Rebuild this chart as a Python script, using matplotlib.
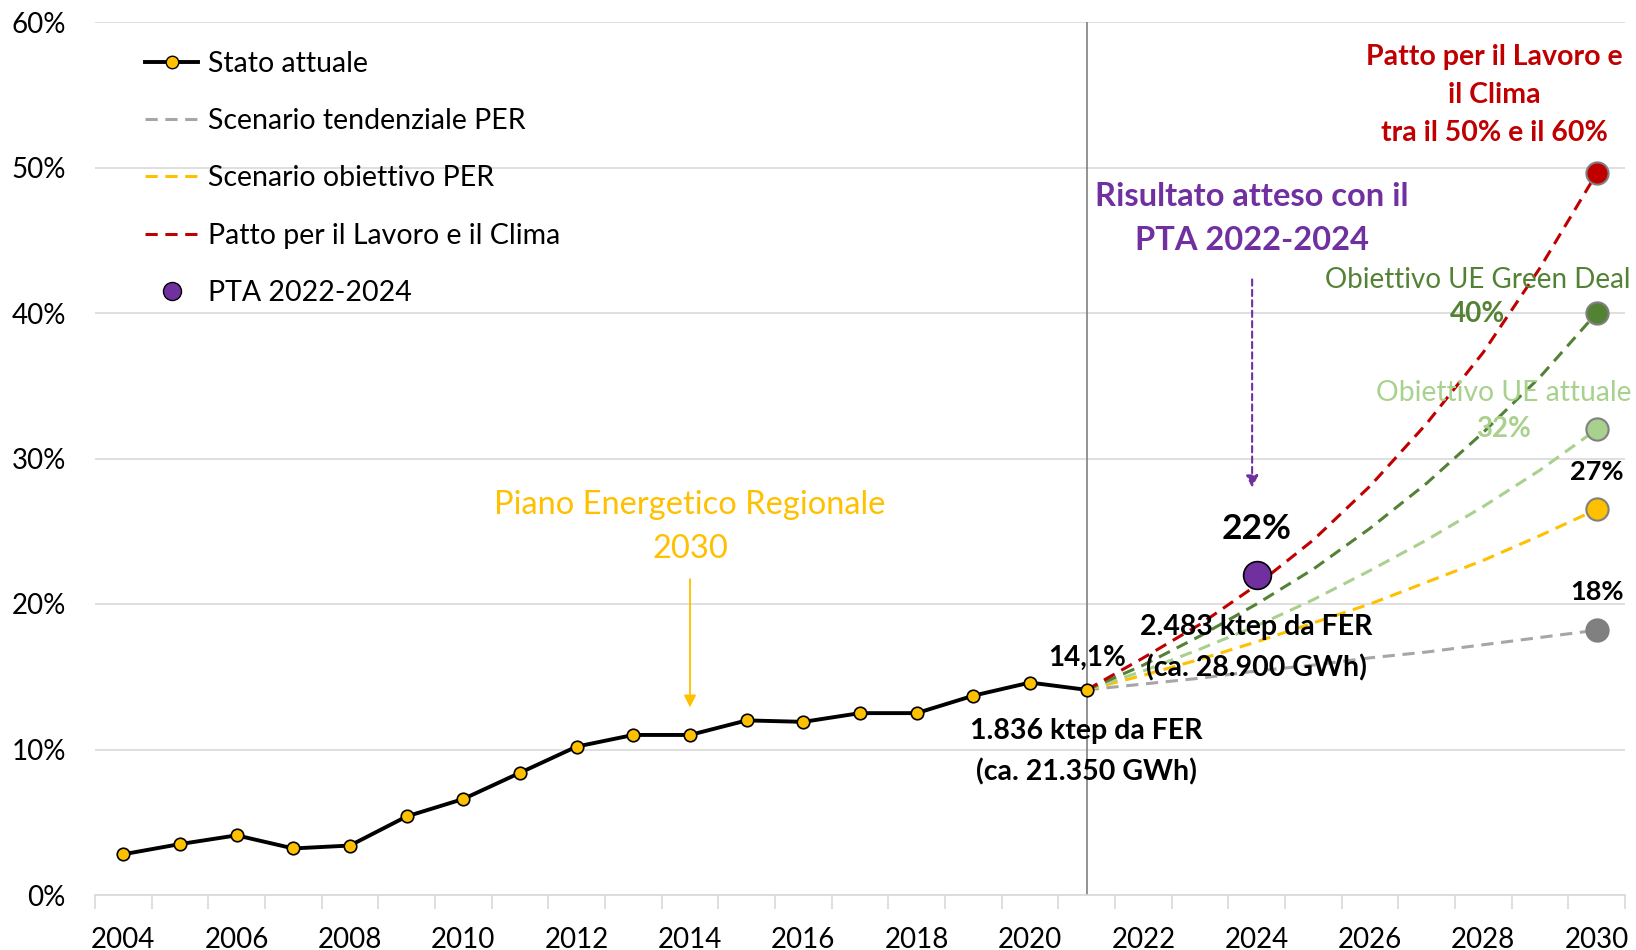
import matplotlib.pyplot as plt
from matplotlib.lines import Line2D

plt.rcParams['font.family'] = ['Lato', 'DejaVu Sans']

# historical share of renewables (%)
years_hist = list(range(2004, 2022))
stato_attuale = [2.8, 3.5, 4.1, 3.2, 3.4, 5.4, 6.6, 8.4, 10.2, 11.0, 11.0, 12.0, 11.9, 12.5, 12.5, 13.7, 14.6, 14.1]

# scenarios 2021-2030 (%)
years_proj = list(range(2021, 2031))
tendenziale = [14.1, 14.5, 14.9, 15.4, 15.8, 16.3, 16.7, 17.2, 17.7, 18.2]
obiettivo_per = [14.1, 15.1, 16.2, 17.4, 18.7, 20.0, 21.5, 23.0, 24.7, 26.5]
ue_attuale = [14.1, 15.4, 16.9, 18.5, 20.3, 22.3, 24.4, 26.7, 29.2, 32.0]
green_deal = [14.1, 15.8, 17.8, 20.0, 22.4, 25.2, 28.3, 31.8, 35.6, 40.0]
patto = [14.1, 16.3, 18.6, 21.3, 24.4, 28.1, 32.4, 37.3, 43.1, 49.6]

pta_year = 2024
pta_value = 22.0

year_ticks = list(range(2004, 2031, 2))
pct_ticks = [0, 10, 20, 30, 40, 50, 60]

RED = '#C00000'
DGREEN = '#548235'
LGREEN = '#A9D18E'
YELLOW = '#FFC000'
GREY = '#A6A6A6'
PURPLE = '#7030A0'

fig = plt.figure(figsize=(16.36, 9.5), dpi=100)
ax = fig.add_axes([95 / 1636, 55 / 950, 1530 / 1636, 873 / 950])

ax.set_xlim(2003.5, 2030.5)
ax.set_ylim(0, 60)

ax.set_yticks(pct_ticks)
ax.set_yticklabels([f'{v}%' for v in pct_ticks])
ax.set_xticks(year_ticks)
ax.set_xticklabels([str(y) for y in year_ticks])
ax.set_xticks([y + 0.5 for y in range(2003, 2031)], minor=True)
ax.tick_params(axis='x', which='major', length=0, pad=23, labelsize=20)
ax.tick_params(axis='x', which='minor', length=10, color='#D9D9D9', width=1.2)
ax.tick_params(axis='y', length=0, pad=21, labelsize=20)
ax.grid(axis='y', color='#D9D9D9', linewidth=1.2)
ax.set_axisbelow(True)
for s in ['top', 'right', 'left']:
    ax.spines[s].set_visible(False)
ax.spines['bottom'].set_color('#D9D9D9')
ax.spines['bottom'].set_linewidth(1.2)

ax.axvline(2021, color='#808080', linewidth=1.2, zorder=1)

dash = (4, 2.5)
scen = [(tendenziale, GREY, '#808080'), (obiettivo_per, YELLOW, YELLOW),
        (ue_attuale, LGREEN, LGREEN), (green_deal, DGREEN, DGREEN), (patto, RED, RED)]
for vals, col, mcol in scen:
    ax.plot(years_proj, vals, color=col, linewidth=2.2, dashes=dash, zorder=3)
    ax.plot(years_proj[-1], vals[-1], 'o', markersize=16, markerfacecolor=mcol,
            markeredgecolor='#7F7F7F', markeredgewidth=1.5, zorder=5)

ax.plot(years_hist, stato_attuale, color='black', linewidth=2.8, marker='o',
        markersize=9, markerfacecolor=YELLOW, markeredgecolor='black',
        markeredgewidth=1.2, zorder=6)

ax.plot(pta_year, pta_value, 'o', markersize=20, markerfacecolor=PURPLE,
        markeredgecolor='black', markeredgewidth=1.2, zorder=6)

# annotations
ax.text(2014.0, 25.3, 'Piano Energetico Regionale\n2030', color=YELLOW, fontsize=23.5,
        ha='center', va='center', linespacing=1.58)
ax.annotate('', xy=(2014.0, 12.7), xytext=(2014.0, 21.9),
            arrowprops=dict(arrowstyle='-|>', color=YELLOW, lw=1.3, mutation_scale=18))

ax.text(2023.92, 46.5, 'Risultato atteso con il\nPTA 2022-2024', color=PURPLE,
        fontsize=23.5, fontweight='bold', ha='center', va='center', linespacing=1.6)
ax.annotate('', xy=(2023.92, 27.8), xytext=(2023.92, 42.5),
            arrowprops=dict(arrowstyle='-|>', color=PURPLE, lw=1.5, ls=(0, (3, 2)),
                            mutation_scale=18))
ax.text(2024.0, 25.15, '22%', fontsize=25.5, fontweight='bold', ha='center', va='center')

ax.text(2024.0, 17.0, '2.483 ktep da FER\n(ca. 28.900 GWh)', fontsize=20.5,
        fontweight='bold', ha='center', va='center', linespacing=1.62, zorder=7)
ax.text(2021.0, 16.3, '14,1%', fontsize=20, fontweight='bold', ha='center', va='center')
ax.text(2021.0, 9.86, '1.836 ktep da FER\n(ca. 21.350 GWh)', fontsize=20.5,
        fontweight='bold', ha='center', va='center', linespacing=1.65)

ax.text(2028.2, 55.0, 'Patto per il Lavoro e\nil Clima\ntra il 50% e il 60%', color=RED,
        fontsize=20.5, fontweight='bold', ha='center', va='center', linespacing=1.58)
ax.text(2027.9, 42.3, 'Obiettivo UE Green Deal', color=DGREEN, fontsize=20,
        ha='center', va='center')
ax.text(2027.9, 39.9, '40%', color=DGREEN, fontsize=20, fontweight='bold',
        ha='center', va='center')
ax.text(2028.36, 34.5, 'Obiettivo UE attuale', color=LGREEN, fontsize=20.3,
        ha='center', va='center')
ax.text(2028.36, 32.0, '32%', color=LGREEN, fontsize=20, fontweight='bold',
        ha='center', va='center')
ax.text(2030.0, 29.1, '27%', fontsize=19.5, fontweight='bold', ha='center', va='center')
ax.text(2030.0, 20.8, '18%', fontsize=19.5, fontweight='bold', ha='center', va='center')

handles = [
    Line2D([], [], color='black', linewidth=2.8, marker='o', markersize=9,
           markerfacecolor=YELLOW, markeredgecolor='black'),
    Line2D([], [], color=GREY, linewidth=2.2, dashes=dash),
    Line2D([], [], color=YELLOW, linewidth=2.2, dashes=dash),
    Line2D([], [], color=RED, linewidth=2.2, dashes=dash),
    Line2D([], [], linestyle='none', marker='o', markersize=13,
           markerfacecolor=PURPLE, markeredgecolor='black'),
]
labels = ['Stato attuale', 'Scenario tendenziale PER', 'Scenario obiettivo PER',
          'Patto per il Lavoro e il Clima', 'PTA 2022-2024']
ax.legend(handles, labels, loc='upper left', bbox_to_anchor=(0.033, 0.967),
          frameon=False, fontsize=20.5, borderaxespad=0, borderpad=0,
          handlelength=1.85, handletextpad=0.35, labelspacing=1.1, markerscale=1)

fig.savefig('out.png', dpi=100)
